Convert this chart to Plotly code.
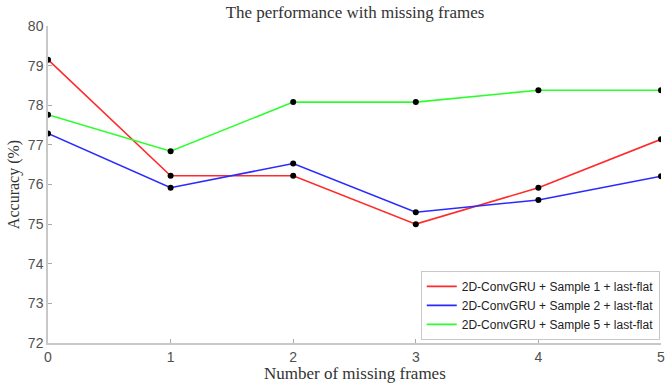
import plotly.graph_objects as go

# Accuracy (%) versus the number of missing frames for three sampling setups
missing_frames = [0, 1, 2, 3, 4, 5]
sample1_acc = [79.15, 76.22, 76.22, 75.00, 75.92, 77.14]
sample2_acc = [77.29, 75.92, 76.53, 75.30, 75.61, 76.21]
sample5_acc = [77.76, 76.84, 78.08, 78.08, 78.38, 78.38]

series_names = [
    "2D-ConvGRU + Sample 1 + last-flat",
    "2D-ConvGRU + Sample 2 + last-flat",
    "2D-ConvGRU + Sample 5 + last-flat",
]
series_values = [sample1_acc, sample2_acc, sample5_acc]
series_colors = ["#ff2a2a", "#2a2aff", "#2aff2a"]

fig = go.Figure()
for name, vals, col in zip(series_names, series_values, series_colors):
    fig.add_trace(go.Scatter(
        x=missing_frames, y=vals, mode="lines", name=name,
        line=dict(color=col, width=1.6),
    ))
for vals in series_values:
    fig.add_trace(go.Scatter(
        x=missing_frames, y=vals, mode="markers", showlegend=False,
        marker=dict(color="black", size=6),
    ))

axis_font = dict(family="Liberation Sans, Arial", size=14, color="#505050")
serif = "Liberation Serif, Times New Roman"
fig.update_layout(
    width=666, height=383,
    margin=dict(l=48, r=5, t=26, b=40, autoexpand=False),
    plot_bgcolor="white", paper_bgcolor="white",
    title=dict(
        text="The performance with missing frames",
        font=dict(family=serif, size=17, color="#333333"),
        x=0.533, xanchor="center", y=0.985, yanchor="top",
    ),
    xaxis=dict(
        range=[0, 5], tickvals=missing_frames, ticks="inside", ticklen=4,
        tickcolor="#aaaaaa", showgrid=False, zeroline=False,
        showline=True, linecolor="#c8c8c8", linewidth=1.5,
        tickfont=axis_font, automargin=False,
    ),
    yaxis=dict(
        range=[72, 80], dtick=1, ticks="inside", ticklen=4,
        tickcolor="#aaaaaa", showgrid=False, zeroline=False,
        showline=True, linecolor="#c8c8c8", linewidth=1.5,
        tickfont=axis_font, automargin=False,
        title=dict(text="Accuracy (%)", standoff=4,
                   font=dict(family=serif, size=16, color="#333333")),
    ),
    legend=dict(
        x=0.998, xanchor="right", y=0.01, yanchor="bottom",
        bgcolor="white", bordercolor="#c8c8c8", borderwidth=1,
        font=dict(family="Liberation Sans, Arial", size=12, color="#222222"),
        itemwidth=30, tracegroupgap=0,
    ),
)

# x-axis title, placed just above the page's bottom edge
fig.add_annotation(
    text="Number of missing frames", showarrow=False,
    xref="paper", yref="paper", x=0.5, y=0, xanchor="center", yanchor="top",
    yshift=-19, font=dict(family=serif, size=17, color="#333333"),
)

fig.write_html("out.html")
